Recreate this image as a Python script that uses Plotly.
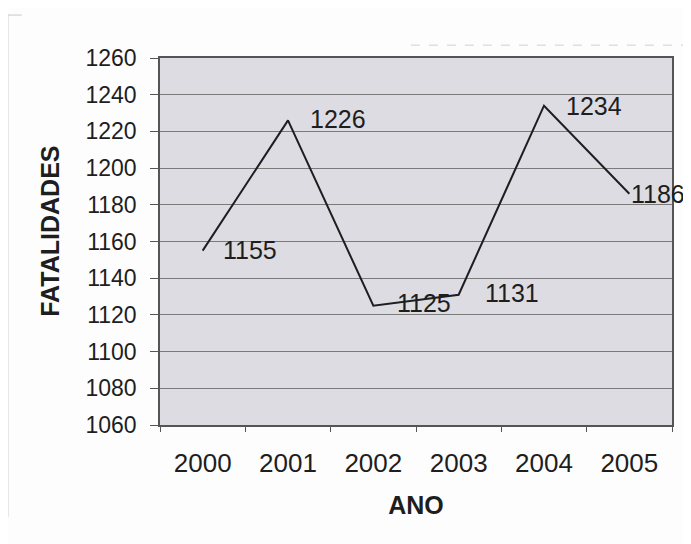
import plotly.graph_objects as go

anos = ["2000", "2001", "2002", "2003", "2004", "2005"]
fatalidades = [1155, 1226, 1125, 1131, 1234, 1186]
y_ticks = list(range(1060, 1261, 20))

# label offsets (px) - the last label sits right next to its point
label_xshift = [18, 20, 22, 24, 20, 0]
label_yshift = [1, 1, 3, 2, 0, 0]

FONT = "Liberation Sans, Arial, sans-serif"
INK = "#1e1e1e"

fig = go.Figure()

fig.add_trace(go.Scatter(
    x=anos, y=fatalidades, mode="lines",
    line=dict(color=INK, width=2),
    hoverinfo="x+y", showlegend=False,
))

# value labels to the right of each point (category index as x)
for i, v in enumerate(fatalidades):
    fig.add_annotation(
        x=i, y=v, text=str(v), showarrow=False,
        xanchor="left", yanchor="middle",
        xshift=label_xshift[i], yshift=label_yshift[i],
        font=dict(family=FONT, size=25, color=INK),
    )

fig.update_xaxes(
    type="category", range=[-0.5, 5.5],
    showgrid=False, zeroline=False,
    showline=True, linecolor="#555", linewidth=1.5, mirror=True,
    ticks="outside", ticklen=5, tickcolor="#555",
    tickson="boundaries", ticklabelstandoff=14,
    tickfont=dict(family=FONT, size=26, color=INK),
    title=dict(text="<b>ANO</b>", font=dict(family=FONT, size=25, color=INK), standoff=20),
)
fig.update_yaxes(
    range=[1060, 1260], tickvals=y_ticks,
    showgrid=True, gridcolor="#7a7a7a", gridwidth=1,
    zeroline=False,
    showline=True, linecolor="#555", linewidth=1.5, mirror=True,
    ticks="outside", ticklen=8, tickcolor="#555",
    ticklabelstandoff=9,
    tickfont=dict(family=FONT, size=23, color=INK),
)

# y axis title as a rotated annotation (sits a bit above the plot centre)
fig.add_annotation(
    xref="paper", yref="paper", x=-0.215, y=0.529,
    text="<b>FATALIDADES</b>", textangle=-90, showarrow=False,
    xanchor="center", yanchor="middle",
    font=dict(family=FONT, size=25, color=INK),
)

# faint frame remnants of the scanned page
fig.add_shape(type="line", xref="paper", yref="paper", x0=-0.297, x1=-0.297, y0=-0.25, y1=1.117,
              line=dict(color="#c8c8c8", width=1))
fig.add_shape(type="line", xref="paper", yref="paper", x0=-0.297, x1=-0.27, y0=1.117, y1=1.117,
              line=dict(color="#c8c8c8", width=1))
fig.add_shape(type="line", xref="paper", yref="paper", x0=0.49, x1=1.037, y0=1.035, y1=1.035,
              line=dict(color="#d0d0d0", width=1, dash="dash"))

fig.update_layout(
    width=683, height=536,
    margin=dict(l=152, r=19, t=50, b=119),
    plot_bgcolor="#dddce3",
    paper_bgcolor="#fdfdfd",
    font=dict(family=FONT),
)

fig.write_html("out.html")
